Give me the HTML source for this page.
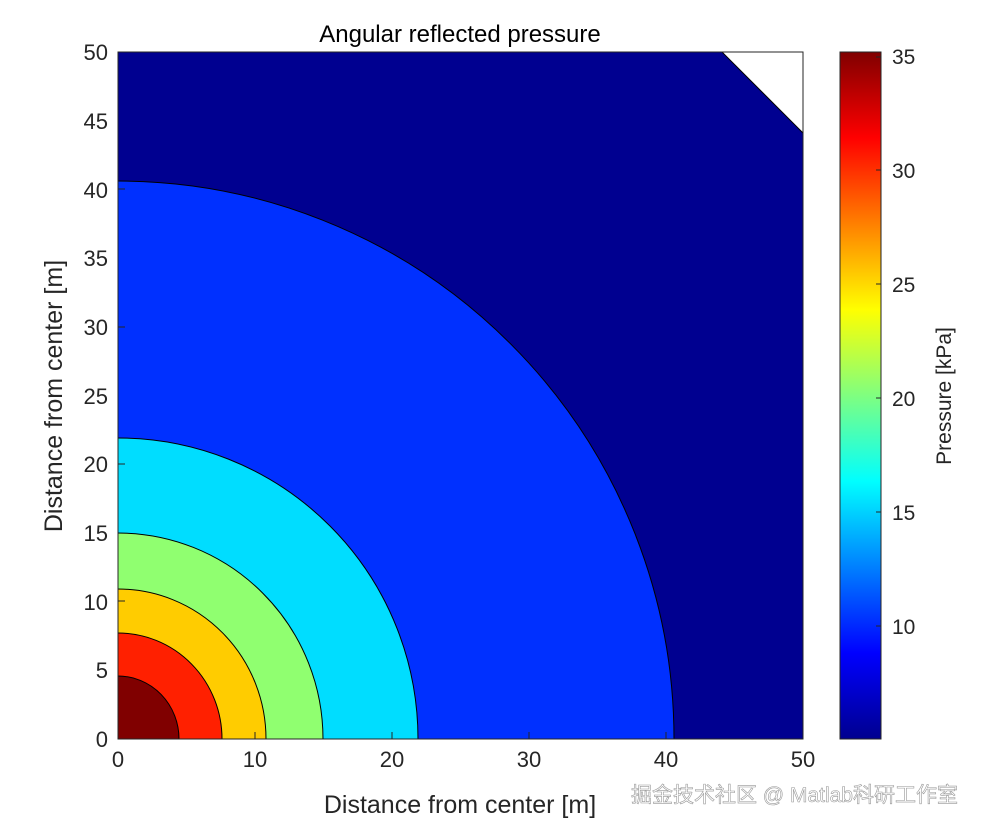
<!DOCTYPE html>
<html><head><meta charset="utf-8"><style>html,body{margin:0;padding:0;background:#fff;overflow:hidden;width:983px;height:830px}svg{display:block}</style></head><body>
<svg width="983" height="830" xmlns="http://www.w3.org/2000/svg" font-family="Liberation Sans, sans-serif">
<defs>
<linearGradient id="jet" x1="0" y1="1" x2="0" y2="0">
<stop offset="0" stop-color="#00008f"/>
<stop offset="0.125" stop-color="#0000ff"/>
<stop offset="0.375" stop-color="#00ffff"/>
<stop offset="0.625" stop-color="#ffff00"/>
<stop offset="0.875" stop-color="#ff0000"/>
<stop offset="1" stop-color="#800000"/>
</linearGradient>
<clipPath id="c"><rect x="118" y="52" width="685" height="687"/></clipPath>
</defs>
<rect width="983" height="830" fill="#fff"/>
<g clip-path="url(#c)" stroke="#000" stroke-width="1">
<rect x="118" y="52" width="685" height="687" fill="#000090" stroke="none"/>
<polygon points="722,52 803,52 803,133" fill="#fff" stroke="#000"/>
<ellipse cx="118" cy="739" rx="556" ry="558" fill="#0030ff"/>
<ellipse cx="118" cy="739" rx="300" ry="301" fill="#00ddff"/>
<ellipse cx="118" cy="739" rx="205" ry="206" fill="#90ff70"/>
<ellipse cx="118" cy="739" rx="148" ry="150" fill="#ffcc00"/>
<ellipse cx="118" cy="739" rx="104" ry="106" fill="#ff2000"/>
<ellipse cx="118" cy="739" rx="61" ry="63" fill="#800000"/>
</g>
<rect x="118" y="52" width="685" height="687" fill="none" stroke="#262626"/>
<g stroke="#262626">
<line x1="255" y1="739" x2="255" y2="732"/><line x1="392" y1="739" x2="392" y2="732"/><line x1="529" y1="739" x2="529" y2="732"/><line x1="666" y1="739" x2="666" y2="732"/>
<line x1="118" y1="601" x2="125" y2="601"/><line x1="118" y1="464" x2="125" y2="464"/><line x1="118" y1="327" x2="125" y2="327"/><line x1="118" y1="189" x2="125" y2="189"/>
</g>
<g font-size="22" fill="#262626" text-anchor="middle">
<text x="118" y="767">0</text><text x="255" y="767">10</text><text x="392" y="767">20</text><text x="529" y="767">30</text><text x="666" y="767">40</text><text x="803" y="767">50</text>
</g>
<g font-size="22" fill="#262626" text-anchor="end">
<text x="108" y="747">0</text><text x="108" y="678">5</text><text x="108" y="610">10</text><text x="108" y="541">15</text><text x="108" y="472">20</text><text x="108" y="404">25</text><text x="108" y="335">30</text><text x="108" y="266">35</text><text x="108" y="198">40</text><text x="108" y="129">45</text><text x="108" y="60">50</text>
</g>
<text x="460" y="42" font-size="24" text-anchor="middle" fill="#000">Angular reflected pressure</text>
<text x="460" y="813" font-size="25" text-anchor="middle" fill="#262626">Distance from center [m]</text>
<text transform="translate(62,396) rotate(-90)" font-size="25" text-anchor="middle" fill="#262626">Distance from center [m]</text>
<rect x="840" y="52" width="41" height="687" fill="url(#jet)" stroke="#262626"/>
<g stroke="#262626"><line x1="876" y1="57" x2="881" y2="57"/><line x1="876" y1="170" x2="881" y2="170"/><line x1="876" y1="284" x2="881" y2="284"/><line x1="876" y1="398" x2="881" y2="398"/><line x1="876" y1="512" x2="881" y2="512"/><line x1="876" y1="626" x2="881" y2="626"/></g>
<g font-size="21" fill="#262626">
<text x="892" y="64">35</text><text x="892" y="178">30</text><text x="892" y="292">25</text><text x="892" y="406">20</text><text x="892" y="520">15</text><text x="892" y="634">10</text>
</g>
<text transform="translate(951,396) rotate(-90)" font-size="21" text-anchor="middle" fill="#262626">Pressure [kPa]</text>
<text x="958" y="802" font-size="21" text-anchor="end" fill="#fff" stroke="#999" stroke-width="0.6" font-family="Liberation Sans, Noto Sans CJK SC, sans-serif">掘金技术社区 @ Matlab科研工作室</text>
</svg>
</body></html>
